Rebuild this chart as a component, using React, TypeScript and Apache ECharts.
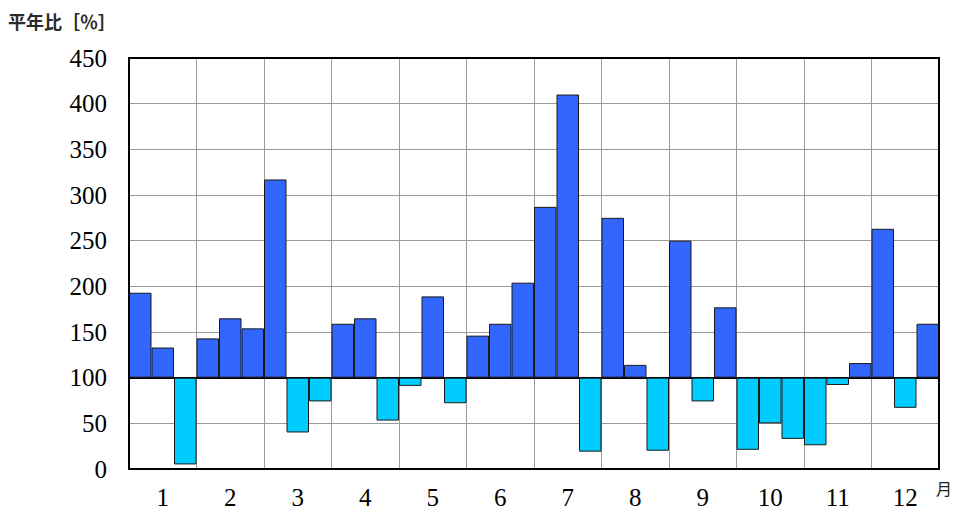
import React, { useEffect, useRef } from "react";
import * as echarts from "echarts";

const months = ["1", "2", "3", "4", "5", "6", "7", "8", "9", "10", "11", "12"];
// 平年比 [%] for each 10-day period (上旬・中旬・下旬) of each month
const ratios = [
  193, 133, 5,
  143, 165, 154,
  317, 40, 74,
  159, 165, 53,
  91, 189, 72,
  146, 159, 204,
  287, 410, 19,
  275, 114, 20,
  250, 74, 177,
  21, 50, 33,
  26, 92, 116,
  263, 67, 159,
];
const yTicks = [0, 50, 100, 150, 200, 250, 300, 350, 400, 450];
const baseline = 100;
const periods = ratios.map((_, i) => `${months[Math.floor(i / 3)]}-${(i % 3) + 1}`);

const SERIF = "Liberation Serif";
const CJK = "Noto Sans CJK JP";

export default function App() {
  const ref = useRef<HTMLDivElement>(null);
  useEffect(() => {
    if (!ref.current) return;
    const chart = echarts.init(ref.current, undefined, { renderer: "svg" });
    const gridColor = "#9a9a9a";
    chart.setOption({
      animation: false,
      backgroundColor: "#ffffff",
      textStyle: { fontFamily: SERIF },
      grid: {
        left: 129,
        right: 15,
        top: 58,
        bottom: 41,
        show: true,
        borderColor: "#000",
        borderWidth: 2,
        z: 5,
      },
      graphic: [
        {
          type: "text",
          left: 8,
          top: 12,
          style: {
            text: "平年比［％］",
            fontFamily: CJK,
            fontSize: 18,
            fontWeight: "bold",
            fill: "#2a2a2a",
          },
        },
        {
          type: "text",
          left: 936,
          top: 480,
          style: {
            text: "月",
            fontFamily: CJK,
            fontSize: 16,
            fill: "#222",
          },
        },
      ],
      xAxis: [
        {
          type: "category",
          data: months,
          boundaryGap: true,
          position: "bottom",
          axisLine: { show: true, lineStyle: { color: "#000", width: 2 } },
          axisTick: { show: false },
          splitLine: { show: true, lineStyle: { color: gridColor, width: 1 } },
          axisLabel: {
            color: "#000",
            fontFamily: SERIF,
            fontSize: 25,
            margin: 16,
          },
          z: 1,
        },
        {
          type: "category",
          data: periods,
          show: false,
          boundaryGap: true,
        },
      ],
      yAxis: {
        type: "value",
        min: yTicks[0] - baseline,
        max: yTicks[yTicks.length - 1] - baseline,
        interval: 50,
        axisLine: { show: true, lineStyle: { color: "#000", width: 2 } },
        axisTick: { show: false },
        splitLine: { show: true, lineStyle: { color: gridColor, width: 1 } },
        axisLabel: {
          color: "#000",
          fontFamily: SERIF,
          fontSize: 25,
          margin: 22,
          formatter: (v: number) => `{s|${v + baseline}}`,
          rich: {
            s: { fontFamily: SERIF, fontSize: 25, color: "#000" },
          },
        },
      },
      series: [
        {
          type: "bar",
          xAxisIndex: 1,
          barWidth: "100%",
          barCategoryGap: "0%",
          data: ratios.map((v) => ({
            value: v - baseline,
            itemStyle: {
              color: v >= baseline ? "#3366ff" : "#00ccff",
              borderColor: "#1a1a1a",
              borderWidth: 1,
            },
          })),
          z: 3,
        },
      ],
    });
    return () => chart.dispose();
  }, []);
  return (
    <div
      ref={ref}
      style={{ position: "fixed", left: 0, top: 0, width: 954, height: 510 }}
    />
  );
}
